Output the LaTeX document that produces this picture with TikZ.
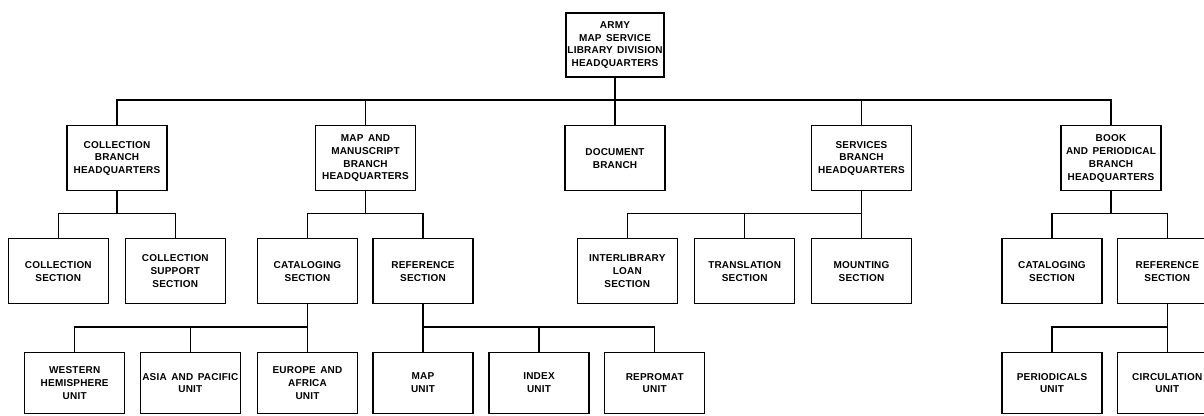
\documentclass[tikz,border=0pt]{standalone}
\usepackage{fontspec}
\newfontfamily\orgfont{Liberation Sans}[LetterSpace=2,WordSpace=1.5]
\begin{document}
\begin{tikzpicture}[x=1pt,y=-1pt,
  unitbox/.style={draw, line width=1.1pt, minimum width=100pt, minimum height=65pt,
    inner sep=0pt, align=center,
    font=\orgfont\bfseries\fontsize{10}{12.8}\selectfont},
  leafbox/.style={unitbox, minimum height=61pt},
  link/.style={line width=1.2pt}]
\useasboundingbox (0,0) rectangle (1204,415);
\clip (0,0) rectangle (1204,415);

% division headquarters
\node[unitbox, minimum width=98pt, minimum height=64pt] (hq) at (615,45)
  {ARMY\\MAP SERVICE\\LIBRARY DIVISION\\HEADQUARTERS};

% branches
\node[unitbox] (coll) at (117,158.3) {COLLECTION\\BRANCH\\HEADQUARTERS};
\node[unitbox] (mm)   at (365.5,158.3) {MAP AND\\MANUSCRIPT\\BRANCH\\HEADQUARTERS};
\node[unitbox] (doc)  at (615,158.3) {DOCUMENT\\BRANCH};
\node[unitbox] (serv) at (861.5,158.3) {SERVICES\\BRANCH\\HEADQUARTERS};
\node[unitbox] (book) at (1111,158.3) {BOOK\\AND PERIODICAL\\BRANCH\\HEADQUARTERS};

% sections
\node[unitbox] (collsec) at (58.3,271.2) {COLLECTION\\SECTION};
\node[unitbox] (collsup) at (175.3,271.2) {COLLECTION\\SUPPORT\\SECTION};
\node[unitbox] (mmcat)   at (307.5,271.2) {CATALOGING\\SECTION};
\node[unitbox] (mmref)   at (423,271.2) {REFERENCE\\SECTION};
\node[unitbox] (ill)     at (627.3,271.2) {INTERLIBRARY\\LOAN\\SECTION};
\node[unitbox] (trans)   at (744.7,271.2) {TRANSLATION\\SECTION};
\node[unitbox] (mount)   at (861.5,271.2) {MOUNTING\\SECTION};
\node[unitbox] (bcat)    at (1052,271.2) {CATALOGING\\SECTION};
\node[unitbox] (bref)    at (1167.3,271.2) {REFERENCE\\SECTION};

% units
\node[leafbox] (west)  at (74.7,383) {WESTERN\\HEMISPHERE\\UNIT};
\node[leafbox] (asia)  at (190.3,383) {ASIA AND PACIFIC\\UNIT};
\node[leafbox] (euro)  at (307.5,383) {EUROPE AND\\AFRICA\\UNIT};
\node[leafbox] (mapu)  at (423,383) {MAP\\UNIT};
\node[leafbox] (index) at (539,383) {INDEX\\UNIT};
\node[leafbox] (repro) at (654.7,383) {REPROMAT\\UNIT};
\node[leafbox] (peri)  at (1052,383) {PERIODICALS\\UNIT};
\node[leafbox] (circ)  at (1167.3,383) {CIRCULATION\\UNIT};

% headquarters to branches
\coordinate (busA) at (615,100);
\draw[link] (hq.south) -- (doc.north);
\draw[link] (coll.north) |- (busA) -| (book.north);
\draw[link] (mm.north) -- (mm.north |- busA);
\draw[link] (serv.north) -- (serv.north |- busA);

% branches to sections
\coordinate (busB1) at (117,213.3);
\draw[link] (coll.south) -- (busB1);
\draw[link] (collsec.north) |- (busB1) -| (collsup.north);
\coordinate (busB2) at (365.5,213.3);
\draw[link] (mm.south) -- (busB2);
\draw[link] (mmcat.north) |- (busB2) -| (mmref.north);
\coordinate (busB3) at (861.5,213.3);
\draw[link] (serv.south) -- (mount.north);
\draw[link] (ill.north) |- (busB3);
\draw[link] (trans.north) -- (trans.north |- busB3);
\coordinate (busB4) at (1111,213.3);
\draw[link] (book.south) -- (busB4);
\draw[link] (bcat.north) |- (busB4) -| (bref.north);

% sections to units
\coordinate (busC1) at (307.5,327);
\draw[link] (mmcat.south) -- (euro.north);
\draw[link] (west.north) |- (busC1);
\draw[link] (asia.north) -- (asia.north |- busC1);
\coordinate (busC2) at (423,327);
\draw[link] (mmref.south) -- (mapu.north);
\draw[link] (busC2) -| (repro.north);
\draw[link] (index.north) -- (index.north |- busC2);
\coordinate (busC3) at (1167.3,327);
\draw[link] (bref.south) -- (circ.north);
\draw[link] (peri.north) |- (busC3);
\end{tikzpicture}
\end{document}
